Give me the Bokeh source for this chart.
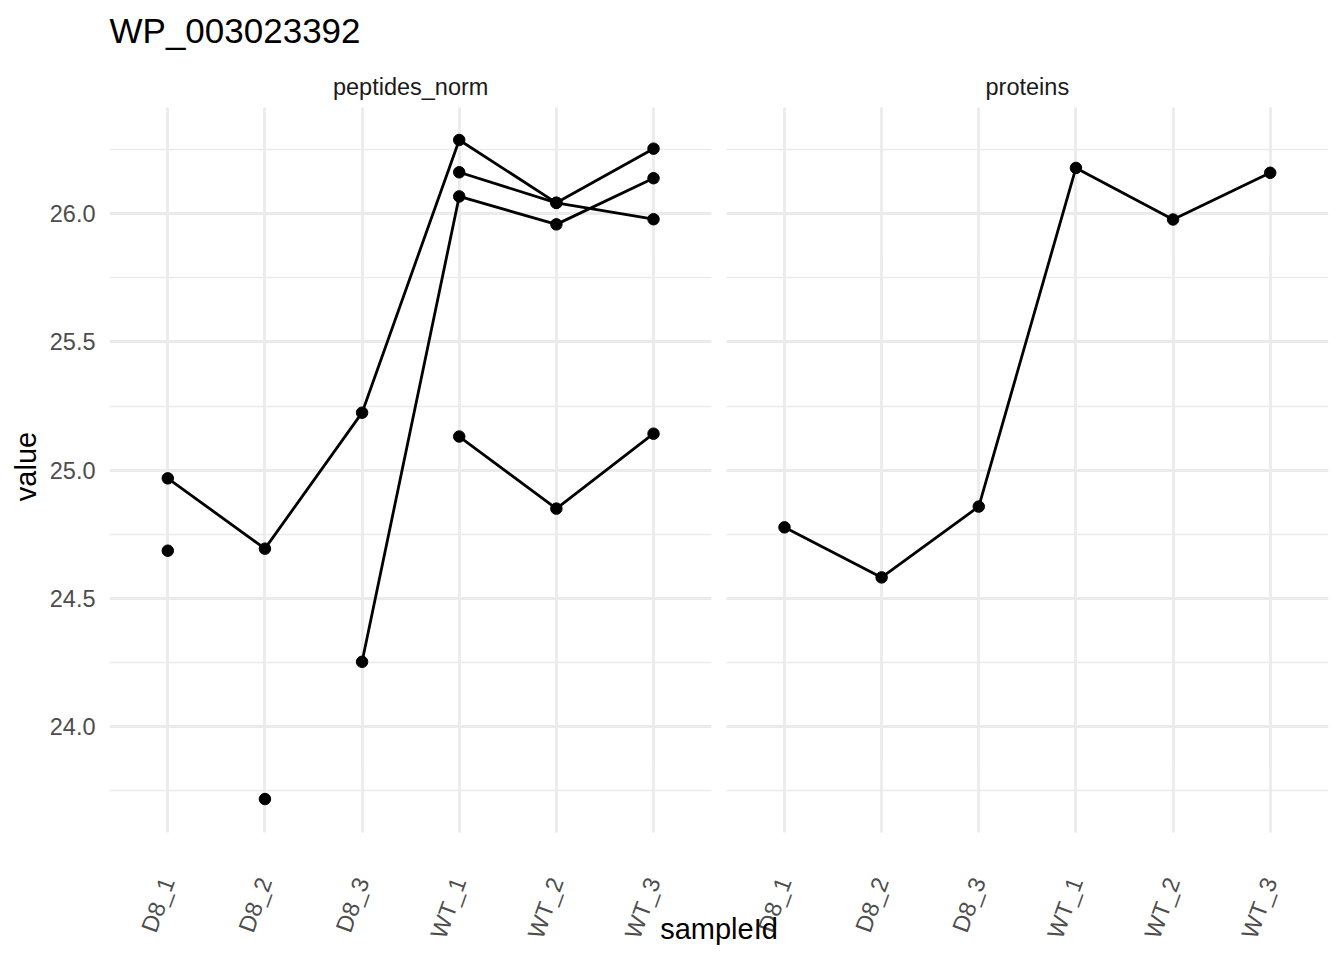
import math
from bokeh.plotting import figure
from bokeh.models import FixedTicker, Range1d, Label, BoxAnnotation, PrintfTickFormatter, Grid
from bokeh.embed import file_html
from bokeh.resources import INLINE

# ---------------- data ----------------
title_text = "WP_003023392"
samples = ["D8_1", "D8_2", "D8_3", "WT_1", "WT_2", "WT_3"]
panels = ["peptides_norm", "proteins"]
nan = float("nan")
pep_a = [24.968, 24.694, 25.224, 26.287, 26.042, 26.253]
pep_b = [nan, nan, 24.253, 26.067, 25.958, 26.138]
pep_c = [24.686, nan, nan, 26.161, 26.042, 25.978]
pep_d = [nan, 23.718, nan, 25.131, 24.850, 25.142]
proteins = [24.777, 24.582, 24.858, 26.178, 25.977, 26.159]
y_ticks = [24.0, 24.5, 25.0, 25.5, 26.0]
y_minor = [23.75, 24.25, 24.75, 25.25, 25.75, 26.25]
x_label = "sampleId"
y_label = "value"

peptides = [pep_a, pep_b, pep_c, pep_d]
panel_series = [peptides, [proteins]]

# ---------------- layout constants ----------------
W, H = 1344, 960
BORDER_L, BORDER_R, BORDER_T, BORDER_B = 109, 16, 56, 84
STRIP_H = 50.5      # facet strip band (px) above the panels
PANEL_H = 725       # panel height (px)
BOTTOM_H = H - BORDER_T - BORDER_B - STRIP_H - PANEL_H
STRIP_TEXT_RAISE = 20.5

n = len(samples)
pad = 0.6          # discrete axis expansion
gap = 0.148        # space between facets (in category units)
panel_span = (n - 1) + 2 * pad
offsets = [i * (panel_span + gap) for i in range(len(panels))]

all_vals = [v for grp in panel_series for s in grp for v in s if v == v]
lo, hi = min(all_vals), max(all_vals)
ext = 0.05 * (hi - lo)
p_lo, p_hi = lo - ext, hi + ext
ppu = PANEL_H / (p_hi - p_lo)

FONT = "Liberation Sans"
GRID = "#EBEBEB"

p = figure(
    width=W, height=H,
    x_range=Range1d(1 - pad, offsets[-1] + n + pad),
    y_range=Range1d(p_lo - BOTTOM_H / ppu, p_hi + STRIP_H / ppu),
    output_backend="svg", toolbar_location=None,
    min_border_left=BORDER_L, min_border_right=BORDER_R,
    min_border_top=BORDER_T, min_border_bottom=BORDER_B,
)
p.outline_line_color = None
p.background_fill_color = "white"
p.border_fill_color = "white"

# title
p.title.text = title_text
p.title.text_font = FONT
p.title.text_font_size = "35px"
p.title.text_font_style = "normal"
p.title.text_color = "black"
p.title.align = "left"
p.title.standoff = 14

# x axis
xticks = []
overrides = {}
for off in offsets:
    for i, s in enumerate(samples):
        t = off + i + 1
        xticks.append(t)
        overrides[t] = s
xa = p.xaxis[0]
xa.ticker = FixedTicker(ticks=xticks)
xa.major_label_overrides = overrides
xa.major_label_orientation = math.radians(70)
xa.major_label_text_font = FONT
xa.major_label_text_font_size = "23.5px"
xa.major_label_text_color = "#4D4D4D"
xa.major_label_standoff = 2
xa.major_tick_out = 0
xa.major_tick_in = 0
xa.minor_tick_out = 0
xa.minor_tick_in = 0
xa.axis_line_color = None
xa.major_tick_line_color = None
xa.minor_tick_line_color = None
xa.axis_label = x_label
xa.axis_label_text_font = FONT
xa.axis_label_text_font_size = "29px"
xa.axis_label_text_font_style = "normal"
xa.axis_label_text_color = "black"
xa.axis_label_standoff = -36

# y axis
yticker = FixedTicker(ticks=y_ticks, minor_ticks=y_minor)
ya = p.yaxis[0]
ya.ticker = yticker
ya.formatter = PrintfTickFormatter(format="%.1f")
ya.major_label_text_font = FONT
ya.major_label_text_font_size = "23.5px"
ya.major_label_text_color = "#4D4D4D"
ya.major_label_standoff = 14
ya.major_tick_out = 0
ya.major_tick_in = 0
ya.minor_tick_out = 0
ya.minor_tick_in = 0
ya.axis_line_color = None
ya.major_tick_line_color = None
ya.minor_tick_line_color = None
ya.axis_label = y_label
ya.axis_label_text_font = FONT
ya.axis_label_text_font_size = "29px"
ya.axis_label_text_font_style = "normal"
ya.axis_label_text_color = "black"
ya.axis_label_standoff = 5

# grids, limited to each facet panel
p.xgrid.grid_line_color = None
p.ygrid.grid_line_color = None
use_boxes = False
try:
    vg = Grid(dimension=0, ticker=xa.ticker, grid_line_color=GRID, grid_line_width=2.8,
              cross_bounds=(p_lo, p_hi))
    p.add_layout(vg)
    for off in offsets:
        hg = Grid(dimension=1, ticker=yticker, grid_line_color=GRID, grid_line_width=2.8,
                  minor_grid_line_color=GRID, minor_grid_line_width=1.4,
                  cross_bounds=(off + 1 - pad, off + n + pad))
        p.add_layout(hg)
except Exception:
    use_boxes = True
    p.xgrid.grid_line_color = GRID
    p.xgrid.grid_line_width = 2.8
    p.ygrid.grid_line_color = GRID
    p.ygrid.grid_line_width = 2.8
    p.ygrid.minor_grid_line_color = GRID
    p.ygrid.minor_grid_line_width = 1.4

if use_boxes:
    for k in range(len(panels) - 1):
        p.add_layout(BoxAnnotation(left=offsets[k] + n + pad, right=offsets[k + 1] + 1 - pad,
                                   fill_color="white", fill_alpha=1.0, line_color=None))
    p.add_layout(BoxAnnotation(bottom=p_hi, fill_color="white", fill_alpha=1.0, line_color=None))
    p.add_layout(BoxAnnotation(top=p_lo, fill_color="white", fill_alpha=1.0, line_color=None))

# data
for off, grp in zip(offsets, panel_series):
    xs = [off + i + 1 for i in range(n)]
    for series in grp:
        p.line(xs, series, line_color="black", line_width=2.8)
        px = [x for x, v in zip(xs, series) if v == v]
        py = [v for v in series if v == v]
        p.scatter(px, py, size=11.5, fill_color="black", line_color="black")

# facet strip labels
for off, name in zip(offsets, panels):
    p.add_layout(Label(x=off + (n + 1) / 2, y=BOTTOM_H + PANEL_H + STRIP_TEXT_RAISE,
                       x_units="data", y_units="screen",
                       text=name, text_align="center", text_baseline="alphabetic",
                       text_font=FONT, text_font_size="23.5px", text_color="#1A1A1A"))

open("out.html", "w").write(file_html(p, INLINE))
